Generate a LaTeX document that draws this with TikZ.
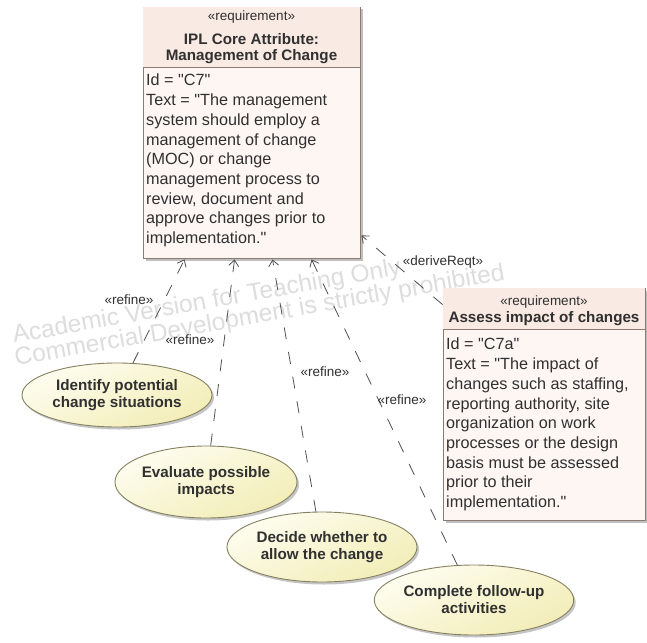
\documentclass[tikz,border=0pt]{standalone}
\usepackage{fontspec}
\setmainfont{Liberation Sans}
% plain family without TeX ligature mapping, so " stays a straight quote
\newfontfamily\reqfont{Liberation Sans}
\usetikzlibrary{shapes.geometric,arrows.meta,shadows,calc}

\definecolor{boxline}{HTML}{8C7B70}
\definecolor{boxfill}{HTML}{FDF6F3}
\definecolor{headfill}{HTML}{F9EAE3}
\definecolor{uctop}{HTML}{FEFDF0}
\definecolor{ucbottom}{HTML}{F2EDB6}
\definecolor{ucline}{HTML}{858160}
\definecolor{ink}{HTML}{303030}
\definecolor{depline}{HTML}{505050}
\definecolor{wmark}{HTML}{DDDDDD}

\tikzset{
  reqbox/.style={rectangle, draw=boxline, line width=0.9pt, fill=boxfill, inner sep=0pt,
    drop shadow={shadow xshift=2.5pt, shadow yshift=-2.5pt, fill=black!45, opacity=0.55}},
  headbar/.style={fill=headfill},
  sepline/.style={draw=boxline, line width=0.9pt},
  stereo/.style={text=ink, inner sep=0pt, font=\reqfont\fontsize{13.5}{15}\selectfont},
  reqtitle/.style={text=ink, inner sep=0pt, align=center, font=\reqfont\bfseries\fontsize{15.2}{16}\selectfont},
  reqbody/.style={text=ink, inner sep=0pt, align=left, anchor=north west, font=\reqfont\fontsize{16.2}{19.7}\selectfont},
  usecase/.style={ellipse, draw=ucline, line width=0.9pt, inner sep=0pt,
    top color=uctop, bottom color=ucbottom, shading angle=25,
    text=ink, align=center, font=\reqfont\bfseries\fontsize{15.2}{17}\selectfont,
    drop shadow={shadow xshift=2pt, shadow yshift=-2.5pt, fill=black!45, opacity=0.5}},
  dep/.style={draw=depline, line width=0.8pt, dash pattern=on 12pt off 13pt,
    -{Straight Barb[length=6pt,width=10pt,line width=0.8pt]}},
  deplabel/.style={text=ink, inner sep=0pt, font=\reqfont\fontsize{13.5}{15}\selectfont},
  wm/.style={text=wmark, inner sep=0pt, anchor=base west, rotate=10, font=\reqfont\fontsize{24.5}{26}\selectfont}
}

\begin{document}
\begin{tikzpicture}[x=1pt, y=-1pt]
  \fill[white] (0,0) rectangle (647,642);
  \useasboundingbox (0,0) rectangle (647,642);

  % watermark lines behind everything
  \node[wm] (wm1) at (14,343) {Academic Version for Teaching Only};
  \node[wm] (wm2) at (16,366) {Commercial Development is strictly prohibited};

  % core requirement block
  \node[reqbox, minimum width=217pt, minimum height=251pt] (core) at (251.5,132.5) {};
  \fill[headbar] ($(core.north west)+(0.45,0.45)$) rectangle ($(core.north east)+(-0.45,61)$);
  \draw[sepline] ($(core.north west)+(0,61)$) -- ($(core.north east)+(0,61)$);
  \node[stereo] (coreStereo) at (251.5,17) {«requirement»};
  \node[reqtitle] (coreTitle) at (251.5,49) {IPL Core Attribute:\\Management of Change};
  \node[reqbody] (coreBody) at (146,74) {Id = "C7"\\
    Text = "The management\\
    system should employ a\\
    management of change\\
    (MOC) or change\\
    management process to\\
    review, document and\\
    approve changes prior to\\
    implementation."};

  % derived requirement block
  \node[reqbox, minimum width=202pt, minimum height=232pt] (assess) at (544,404) {};
  \fill[headbar] ($(assess.north west)+(0.45,0.45)$) rectangle ($(assess.north east)+(-0.45,42)$);
  \draw[sepline] ($(assess.north west)+(0,42)$) -- ($(assess.north east)+(0,42)$);
  \node[stereo] (assessStereo) at (544,302) {«requirement»};
  \node[reqtitle] (assessTitle) at (544,319) {Assess impact of changes};
  \node[reqbody] (assessBody) at (446,338) {Id = "C7a"\\
    Text = "The impact of\\
    changes such as staffing,\\
    reporting authority, site\\
    organization on work\\
    processes or the design\\
    basis must be assessed\\
    prior to their\\
    implementation."};

  % use cases
  \node[usecase, minimum width=190pt, minimum height=64pt] (uc1) at (117,395) {Identify potential\\change situations};
  \node[usecase, minimum width=182pt, minimum height=72pt] (uc2) at (206,482) {Evaluate possible\\impacts};
  \node[usecase, minimum width=190pt, minimum height=70pt] (uc3) at (322,547) {Decide whether to\\allow the change};
  \node[usecase, minimum width=185pt, minimum height=70pt] (uc4) at (474,600) {Complete follow-up\\activities};

  % connector ends on the core block
  \coordinate (t1) at ($(core.south west)+(42,1)$);
  \coordinate (t2) at ($(core.south west)+(92,1)$);
  \coordinate (t3) at ($(core.south west)+(130,1)$);
  \coordinate (t4) at ($(core.south west)+(169,1)$);
  \coordinate (t5) at ($(core.south east)+(1,-23)$);
  \coordinate (s5) at ($(assess.north west)+(0,17)$);

  % refine and derive dependencies
  \draw[dep] (uc1) -- (t1);
  \draw[dep] (uc2) -- (t2);
  \draw[dep] (uc3) -- (t3);
  \draw[dep] (uc4) -- (t4);
  \draw[dep] (s5) -- (t5);

  \node[deplabel] (lab1) at (129,300) {«refine»};
  \node[deplabel] (lab2) at (190,340) {«refine»};
  \node[deplabel] (lab3) at (325,372) {«refine»};
  \node[deplabel] (lab4) at (402,400) {«refine»};
  \node[deplabel] (lab5) at (443,262) {«deriveReqt»};
\end{tikzpicture}
\end{document}
